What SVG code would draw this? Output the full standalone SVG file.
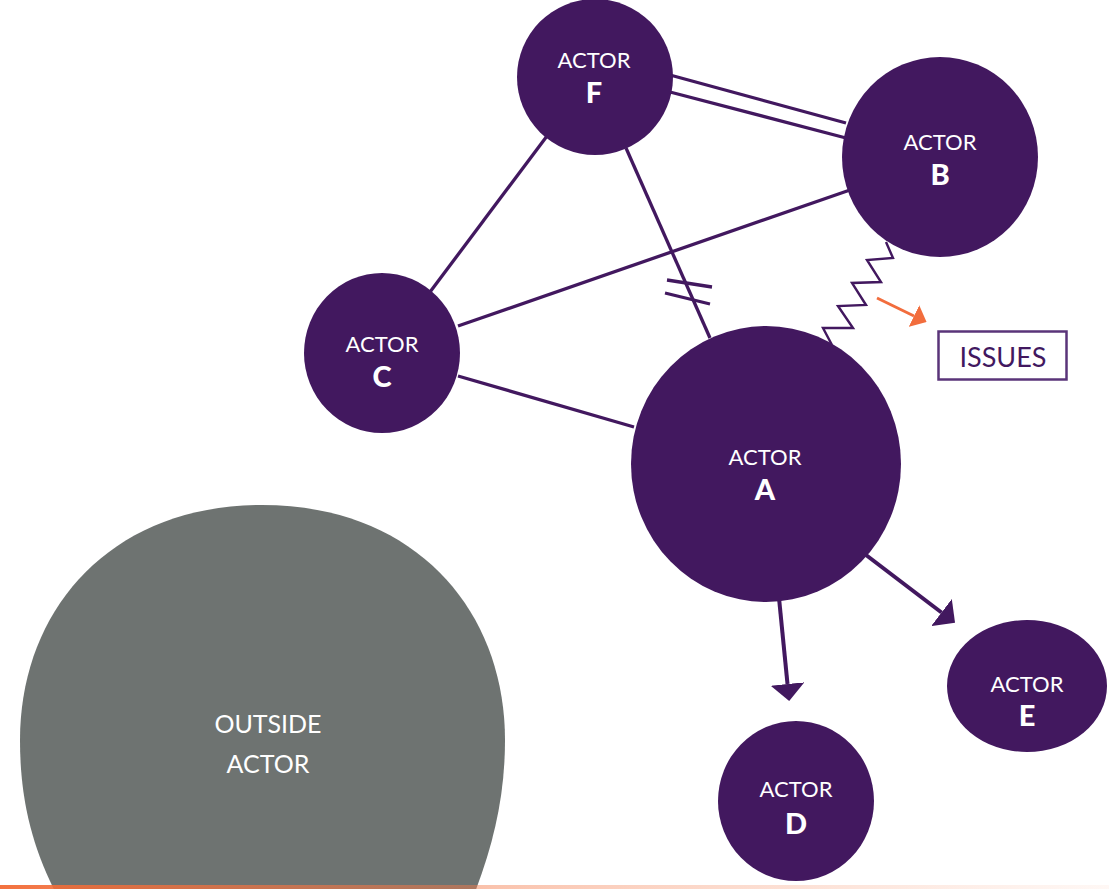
<svg xmlns="http://www.w3.org/2000/svg" width="1109" height="889" viewBox="0 0 1109 889">
  <style>
    .node { fill: #42185f; }
    .outside { fill: #6e7371; }
    .lbl { font-family: "Lato", "Liberation Sans", sans-serif; font-size: 22px; fill: #ffffff; text-anchor: middle; }
    .let { font-family: "Lato", "Liberation Sans", sans-serif; font-size: 29px; font-weight: 900; fill: #ffffff; text-anchor: middle; }
    .olbl { font-family: "Lato", "Liberation Sans", sans-serif; font-size: 25px; fill: #ffffff; text-anchor: middle; }
    .edge { stroke: #42185f; stroke-width: 3.3; fill: none; }
    .thin { stroke: #42185f; stroke-width: 2.4; fill: none; stroke-linejoin: miter; }
    .arrow { stroke: #42185f; stroke-width: 4; fill: none; }
    .orange { stroke: #f26d3d; stroke-width: 3; fill: none; }
  </style>
  <defs>
    <marker id="head" viewBox="0 0 17 34" refX="0" refY="17" markerWidth="17" markerHeight="34" markerUnits="userSpaceOnUse" orient="auto">
      <path d="M0,0 L17,17 L0,34 Z" fill="#42185f"/>
    </marker>
    <marker id="headO" viewBox="0 0 14 24" refX="0" refY="12" markerWidth="14" markerHeight="24" markerUnits="userSpaceOnUse" orient="auto">
      <path d="M0,0 L14,12 L0,24 Z" fill="#f26d3d"/>
    </marker>
    <linearGradient id="bar" x1="0" y1="0" x2="1" y2="0">
      <stop offset="0" stop-color="#f26a35" stop-opacity="0.95"/>
      <stop offset="0.45" stop-color="#f47c4c" stop-opacity="0.45"/>
      <stop offset="1" stop-color="#f8a07d" stop-opacity="0.08"/>
    </linearGradient>
  </defs>

  <rect width="1109" height="889" fill="#ffffff"/>

  <g id="connectors">
    <line class="edge" x1="547" y1="136" x2="430" y2="292"/>
    <line class="edge" x1="626" y1="148" x2="710" y2="338"/>
    <line class="edge" x1="667" y1="280" x2="712" y2="287"/>
    <line class="edge" x1="665" y1="293" x2="710" y2="304"/>
    <line class="edge" x1="458" y1="326" x2="850" y2="190"/>
    <line class="edge" x1="458" y1="376" x2="634" y2="427"/>
    <line class="edge" x1="670" y1="75" x2="846" y2="123"/>
    <line class="edge" x1="670" y1="92" x2="846" y2="138"/>
    <polyline class="thin" points="886,242 893,258 867,260 881,282 852,283 866,305 838,306 853,328 823,328 832,345"/>
    <line class="orange" x1="877" y1="298" x2="914" y2="316" marker-end="url(#headO)"/>
    <line class="arrow" x1="779" y1="598" x2="787.5" y2="684" marker-end="url(#head)"/>
    <line class="arrow" x1="866" y1="555" x2="941.5" y2="612.5" marker-end="url(#head)"/>
  </g>

  <g id="node-outside">
    <path class="outside" d="M262,505 C415,505 505,610 505,740 C505,800 492,850 470,905 L62,905 C32,850 20,800 20,740 C20,610 110,505 262,505 Z"/>
    <text class="olbl" x="268" y="733">OUTSIDE</text>
    <text class="olbl" x="268" y="773">ACTOR</text>
  </g>

  <g id="node-f">
    <ellipse class="node" cx="595" cy="77" rx="78" ry="78"/>
    <text class="lbl" x="594" y="68">ACTOR</text>
    <text class="let" x="594" y="103">F</text>
  </g>

  <g id="node-b">
    <ellipse class="node" cx="940" cy="157" rx="98" ry="100"/>
    <text class="lbl" x="940" y="150">ACTOR</text>
    <text class="let" x="940" y="185">B</text>
  </g>

  <g id="node-c">
    <ellipse class="node" cx="382" cy="353" rx="78" ry="80"/>
    <text class="lbl" x="382" y="352">ACTOR</text>
    <text class="let" x="382" y="387">C</text>
  </g>

  <g id="node-a">
    <ellipse class="node" cx="766" cy="464" rx="135" ry="138"/>
    <text class="lbl" x="765" y="465">ACTOR</text>
    <text class="let" x="765" y="500">A</text>
  </g>

  <g id="node-d">
    <ellipse class="node" cx="796" cy="801" rx="78" ry="80"/>
    <text class="lbl" x="796" y="797">ACTOR</text>
    <text class="let" x="796" y="834">D</text>
  </g>

  <g id="node-e">
    <ellipse class="node" cx="1027" cy="686" rx="80" ry="66"/>
    <text class="lbl" x="1027" y="692">ACTOR</text>
    <text class="let" x="1027" y="726">E</text>
  </g>

  <g id="node-issues">
    <rect x="938.5" y="331.5" width="128" height="48" fill="#ffffff" stroke="#5a3479" stroke-width="2.5"/>
    <text x="1003" y="367" font-family="Lato, 'Liberation Sans', sans-serif" font-size="27" fill="#42185f" text-anchor="middle">ISSUES</text>
  </g>

  <rect x="0" y="885" width="1109" height="4" fill="url(#bar)"/>
</svg>
